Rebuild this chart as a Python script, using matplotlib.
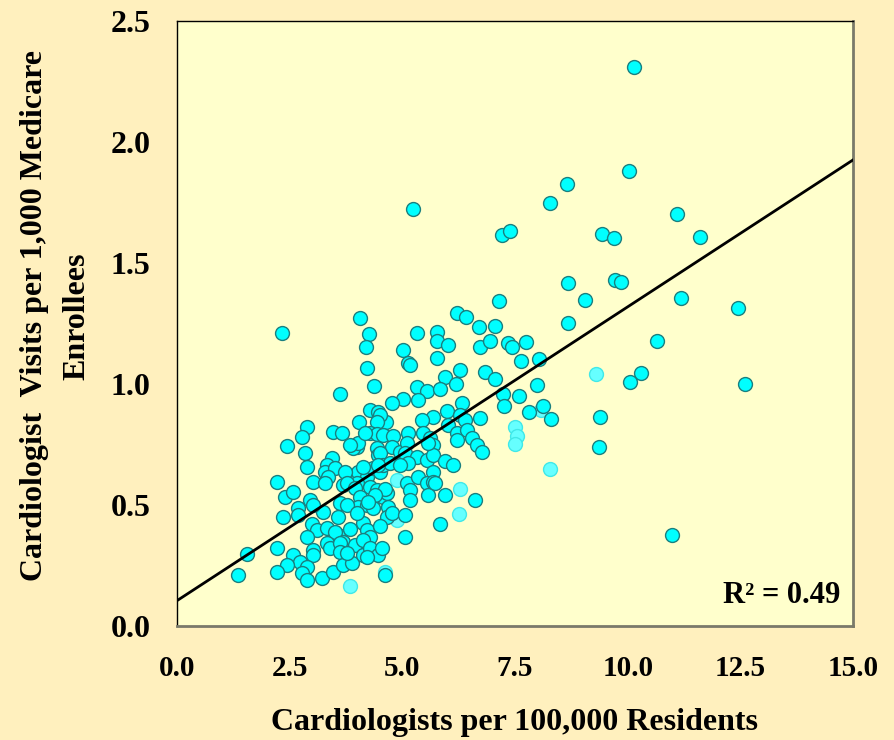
import numpy as np
import matplotlib
matplotlib.use('Agg')
import matplotlib.pyplot as plt

# cardiologists per 100,000 residents (x) and visits per 1,000 enrollees (y)
x_main = [
    10.14, 5.24, 8.65, 10.03, 8.28, 11.09, 11.60, 9.43, 9.70, 7.21, 7.39, 8.68, 9.72, 9.85,
    9.05, 11.18, 7.14, 12.45, 8.68, 10.65, 10.30, 10.05, 12.60, 10.98, 9.39, 9.36, 2.33, 1.35,
    1.55,
    7.34, 7.43, 7.74, 7.63, 8.03, 7.23, 7.26, 7.59, 7.99, 7.81, 8.30, 8.12,
    6.21, 6.41, 4.06, 6.70, 7.06, 5.33, 5.77, 5.77, 6.01, 4.26, 4.19, 5.01, 5.13, 5.17,
    5.77, 6.72, 6.94, 4.22, 6.28, 5.95, 6.19, 6.83, 7.06, 4.37, 5.33, 5.55, 5.84, 5.35,
    5.01, 4.77, 3.62, 6.32, 5.99, 6.72, 6.28, 6.39, 5.68, 5.44, 4.28, 4.46, 4.64, 4.50,
    4.04, 4.44,
    6.01, 6.21, 6.43, 6.55, 6.66, 6.77, 3.46, 3.66, 4.28, 4.44, 4.57, 4.79, 5.13, 5.46,
    5.61, 5.68, 2.88, 2.77, 2.44, 2.84, 2.88, 3.99, 3.91, 4.02, 4.44, 4.46, 4.77, 4.95,
    5.10, 5.06, 5.33, 5.55, 5.68, 5.68, 5.95, 6.12, 3.44, 3.33, 3.28, 3.51, 4.17, 3.84,
    5.57, 6.21, 4.50, 5.13,
    2.22, 2.40, 2.57, 3.02, 3.35, 3.68, 3.88, 4.02, 4.22, 4.35, 4.50, 4.57, 4.73, 4.95,
    5.10, 5.17, 5.35, 5.55, 5.68, 5.57, 5.95, 6.61, 3.99, 4.28, 4.44, 4.57, 4.66, 3.73,
    3.28, 3.77, 3.95, 4.46, 5.72, 4.62, 4.39, 4.13,
    4.06, 4.02, 4.22, 4.35, 3.62, 3.77, 3.24, 2.68, 2.68, 2.35, 2.95, 3.02, 4.68, 4.66,
    4.77, 5.06, 5.17, 5.06, 5.84, 3.00, 3.11, 3.33, 3.57, 3.51, 3.68, 3.84, 3.95, 4.13,
    4.22, 4.28, 4.50, 3.57, 3.99, 4.24, 2.88, 4.13,
    3.33, 3.39, 3.62, 3.62, 2.22, 3.02, 3.02, 2.57, 2.73, 2.44, 2.22, 2.88, 2.77, 2.88,
    3.22, 3.46, 3.68, 3.88, 4.13, 4.28, 4.46, 4.55, 3.77, 4.22, 4.62,
]
y_main = [
    2.31, 1.723, 1.826, 1.880, 1.748, 1.702, 1.607, 1.620, 1.603, 1.616, 1.632, 1.417, 1.430, 1.421,
    1.347, 1.355, 1.343, 1.314, 1.252, 1.178, 1.045, 1.008, 1.000, 0.376, 0.864, 0.740, 1.211, 0.211,
    0.298,
    1.169, 1.153, 1.173, 1.095, 1.103, 0.959, 0.909, 0.950, 0.996, 0.884, 0.855, 0.909,
    1.293, 1.277, 1.273, 1.235, 1.240, 1.211, 1.215, 1.178, 1.161, 1.207, 1.153, 1.140, 1.087, 1.078,
    1.107, 1.153, 1.178, 1.066, 1.058, 1.029, 1.000, 1.050, 1.021, 0.992, 0.988, 0.971, 0.979, 0.934,
    0.938, 0.921, 0.959, 0.921, 0.888, 0.859, 0.872, 0.851, 0.864, 0.851, 0.893, 0.884, 0.843, 0.872,
    0.843, 0.843,
    0.831, 0.797, 0.810, 0.777, 0.748, 0.719, 0.802, 0.797, 0.797, 0.793, 0.789, 0.785, 0.797, 0.797,
    0.777, 0.748, 0.822, 0.781, 0.744, 0.715, 0.657, 0.740, 0.736, 0.756, 0.736, 0.707, 0.740, 0.719,
    0.756, 0.715, 0.698, 0.686, 0.707, 0.636, 0.682, 0.665, 0.694, 0.665, 0.636, 0.653, 0.797, 0.748,
    0.756, 0.769, 0.715, 0.674,
    0.595, 0.533, 0.554, 0.595, 0.616, 0.583, 0.616, 0.636, 0.616, 0.653, 0.636, 0.665, 0.674, 0.665,
    0.591, 0.562, 0.616, 0.591, 0.595, 0.541, 0.541, 0.521, 0.591, 0.574, 0.562, 0.533, 0.550, 0.636,
    0.591, 0.591, 0.570, 0.665, 0.591, 0.566, 0.541, 0.657,
    0.533, 0.492, 0.500, 0.488, 0.508, 0.500, 0.471, 0.488, 0.459, 0.450, 0.521, 0.500, 0.492, 0.450,
    0.467, 0.459, 0.521, 0.368, 0.421, 0.421, 0.397, 0.405, 0.376, 0.388, 0.347, 0.401, 0.335, 0.426,
    0.397, 0.368, 0.413, 0.450, 0.467, 0.512, 0.368, 0.355,
    0.343, 0.322, 0.343, 0.306, 0.322, 0.314, 0.293, 0.293, 0.264, 0.252, 0.223, 0.244, 0.219, 0.190,
    0.198, 0.223, 0.252, 0.260, 0.293, 0.322, 0.293, 0.322, 0.302, 0.285, 0.211,
]

# paler points
x_pale = [9.30, 8.08, 7.50, 7.54, 7.50, 8.28, 4.88, 4.88, 6.28, 6.26, 4.62, 3.84]
y_pale = [1.041, 0.893, 0.822, 0.785, 0.752, 0.649, 0.603, 0.438, 0.566, 0.463, 0.223, 0.165]

# fitted line
fit_intercept = 0.105
fit_slope = 0.1214
r_squared = 0.49

x_ticks = [0.0, 2.5, 5.0, 7.5, 10.0, 12.5, 15.0]
y_ticks = [0.0, 0.5, 1.0, 1.5, 2.0, 2.5]

plt.rcParams['font.family'] = ['Liberation Serif', 'DejaVu Serif']
plt.rcParams['font.weight'] = 'bold'

fig = plt.figure(figsize=(8.95, 7.40), dpi=100)
fig.patch.set_facecolor('#FFF0BE')
ax = fig.add_axes([0.1978, 0.154, 0.7553, 0.8176])
ax.set_facecolor('#FFFFCC')

ax.scatter(x_pale, y_pale, s=100, color='#66FFFF', edgecolor='#40E8E8', linewidth=1, zorder=2)
ax.scatter(x_main, y_main, s=100, color='#00FFFF', edgecolor='#1A7F7F', linewidth=1, zorder=3)

xl = np.array([0.0, 15.0])
ax.plot(xl, fit_intercept + fit_slope * xl, color='black', linewidth=2, zorder=4)

ax.set_xlim(0, 15)
ax.set_ylim(0, 2.5)
ax.set_xticks(x_ticks)
ax.set_yticks(y_ticks)
ax.set_xticklabels([f'{v:.1f}' for v in x_ticks], fontsize=21, fontweight='bold')
ax.set_yticklabels([f'{v:.1f}' for v in y_ticks], fontsize=23, fontweight='bold')
ax.tick_params(axis='x', length=0, pad=21)
ax.tick_params(axis='y', length=0, pad=19)

for side in ['top', 'left']:
    ax.spines[side].set_color('black')
    ax.spines[side].set_linewidth(1)
for side in ['right', 'bottom']:
    ax.spines[side].set_color('#7A7A6A')
    ax.spines[side].set_linewidth(2)

ax.text(0.981, 0.05, f'R\u00b2 = {r_squared:.2f}', transform=ax.transAxes,
        ha='right', va='center', fontsize=22, fontweight='bold')

fig.text(0.575, 0.024, 'Cardiologists per 100,000 Residents', ha='center', va='center',
         fontsize=23, fontweight='bold')
fig.text(0.062, 0.573, 'Cardiologist  Visits per 1,000 Medicare\nEnrollees', rotation=90,
         ha='center', va='center', multialignment='center', fontsize=23,
         fontweight='bold', linespacing=1.6)

fig.savefig('out.png', dpi=100, facecolor=fig.get_facecolor())
